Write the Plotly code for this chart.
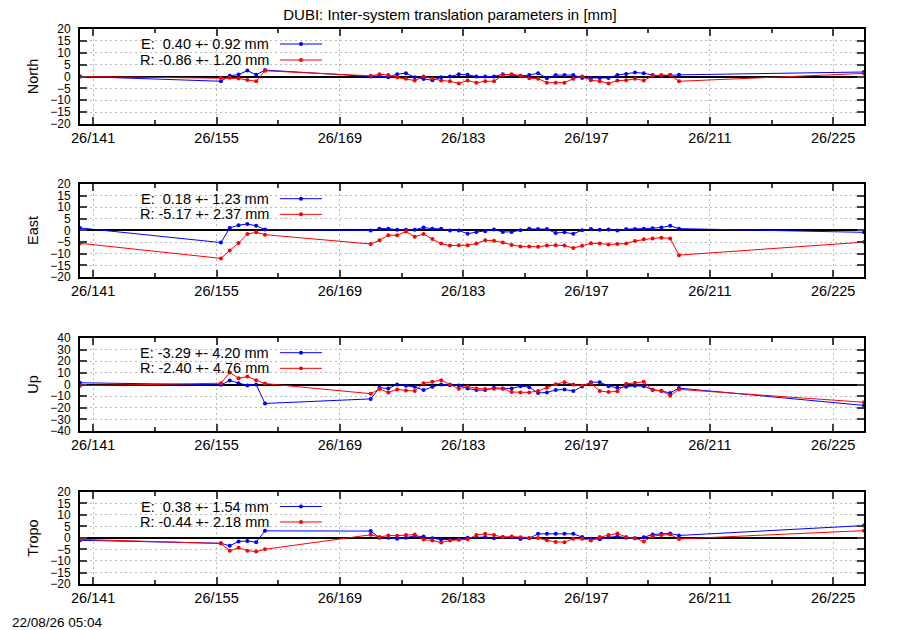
import plotly.graph_objects as go
from plotly.subplots import make_subplots

# day of year (2026), one solution per day
days = [139.5, 155.5, 156.5, 157.5, 158.5, 159.5, 160.5,
        172.5, 173.5, 174.5, 175.5, 176.5, 177.5, 178.5, 179.5, 180.5, 181.5,
        182.5, 183.5, 184.5, 185.5, 186.5, 187.5, 188.5, 189.5, 190.5, 191.5,
        192.5, 193.5, 194.5, 195.5, 196.5, 197.5, 198.5, 199.5, 200.5, 201.5,
        202.5, 203.5, 204.5, 205.5, 206.5, 207.5, 228.5]

north_e = [0.0, -2.0, 0.3, 0.8, 2.5, 0.7, 2.7,
           0.0, 0.3, -0.3, 1.0, 1.4, -0.3, -1.1, -1.6, -0.3, 0.0,
           0.9, 0.7, 0.0, 0.0, 0.0, 0.9, 0.6, 0.3, 0.6, 1.4,
           -0.7, 0.6, 0.6, 0.6, -0.6, -0.6, -0.6, -0.6, 0.6, 1.1,
           1.7, 1.4, 0.6, 0.3, 0.6, 0.7, 1.9]
north_r = [0.0, -0.5, -0.5, -0.8, -1.5, -2.0, 2.4,
           0.3, 0.9, 0.6, -0.4, -0.9, -1.7, 0.0, -0.9, -1.7, -2.0,
           -2.9, -1.7, -2.6, -2.0, -2.0, 0.6, 1.0, 0.3, -0.7, -0.9,
           -2.6, -2.6, -2.6, -0.9, 0.0, -1.6, -2.0, -2.9, -1.7, -1.6,
           -0.9, -1.7, 0.3, 0.6, 0.6, -2.0, 1.3]

east_e = [1.1, -5.2, 1.1, 2.3, 2.8, 2.0, 0.4,
          0.0, 0.8, 0.8, 0.3, 0.3, 0.3, 1.3, 0.8, 0.7, 0.0,
          0.0, -1.4, -0.7, -0.3, 0.4, -0.6, -0.6, 0.1, 0.7, 0.6,
          0.6, -1.1, -0.8, -1.4, 0.1, 0.6, 0.3, 0.4, 0.0, 0.6,
          0.6, 0.8, 1.0, 1.3, 2.0, 0.8, -0.8]
east_r = [-5.5, -12.0, -8.6, -5.4, -1.5, -0.8, -1.8,
          -5.8, -4.2, -2.0, -2.1, -0.4, -2.7, -1.5, -3.7, -5.6, -6.5,
          -6.3, -6.3, -5.6, -4.2, -4.4, -5.2, -6.2, -6.9, -6.9, -7.0,
          -6.5, -6.3, -6.5, -7.5, -6.6, -5.5, -5.6, -6.0, -5.8, -5.6,
          -4.5, -3.8, -3.4, -3.1, -3.4, -10.6, -5.0]

up_e = [1.5, -0.3, 3.4, 1.1, -0.8, 0.0, -16.3,
        -12.4, -2.8, -3.4, 0.0, -1.1, -2.0, -4.8, -2.0, 0.0, -0.6,
        -0.8, -3.4, -4.8, -4.8, -2.8, -3.4, -3.4, -1.4, -2.3, -7.3,
        -6.8, -4.8, -4.2, -5.6, -1.7, 2.0, 2.0, -1.4, -2.8, -2.0,
        -1.1, -1.4, -4.5, -5.6, -7.3, -3.1, -18.0]
up_r = [-1.0, 1.1, 10.4, 5.4, 6.8, 3.7, 0.8,
        -7.9, -3.9, -6.8, -4.2, -5.1, -5.6, 1.1, 2.3, 3.7, 0.0,
        -3.7, -1.7, -3.4, -3.9, -3.7, -3.7, -6.5, -6.8, -6.8, -5.6,
        -2.8, 0.3, 2.0, 0.0, -1.1, 1.1, -5.6, -6.5, -5.9, 0.6,
        1.4, 2.3, -4.8, -5.4, -9.6, -4.2, -15.3]

tropo_e = [-1.0, -2.3, -3.4, -1.5, -1.3, -1.8, 3.1,
           3.0, 0.1, 0.1, -0.3, 0.1, 1.0, 0.6, -0.1, -0.7, -0.7,
           -0.6, 0.1, 0.3, 0.4, -0.1, 0.4, 0.3, -0.4, -0.1, 1.8,
           1.8, 1.8, 1.8, 1.8, 0.4, -0.3, -0.6, 0.3, 0.7, 0.1,
           -0.1, 0.3, 1.5, 1.8, 2.0, 1.1, 5.4]
tropo_r = [-0.6, -2.4, -5.6, -4.2, -5.5, -5.9, -4.9,
           1.4, 0.4, 1.1, 1.0, 1.3, 1.5, -0.7, -1.1, -2.0, -1.1,
           -0.8, -0.6, 1.3, 1.8, 1.3, 0.3, 0.6, 0.3, 0.0, 0.0,
           -1.0, -1.7, -1.8, -0.3, -0.3, -1.1, 0.4, 1.3, 2.0, 0.4,
           -0.1, -1.5, 0.8, 1.3, 1.5, -0.4, 3.2]

panels = [
    ("North", north_e, north_r, "E:\u00a0\u00a00.40 +- 0.92 mm", "R: -0.86 +- 1.20 mm", 20, 5),
    ("East", east_e, east_r, "E:\u00a0\u00a00.18 +- 1.23 mm", "R: -5.17 +- 2.37 mm", 20, 5),
    ("Up", up_e, up_r, "E: -3.29 +- 4.20 mm", "R: -2.40 +- 4.76 mm", 40, 10),
    ("Tropo", tropo_e, tropo_r, "E:\u00a0\u00a00.38 +- 1.54 mm", "R: -0.44 +- 2.18 mm", 20, 5),
]

xtick_days = [141, 155, 169, 183, 197, 211, 225]
xtick_text = ["26/%d" % d for d in xtick_days]

domains = [[0.8288, 1.0], [0.5532, 0.7207], [0.2757, 0.4432], [0.0, 0.1658]]

FONT = "Liberation Sans, Arial, sans-serif"
BLUE = "rgb(0,0,255)"
RED = "rgb(255,0,0)"
GRID = "rgb(185,185,185)"

fig = make_subplots(rows=4, cols=1)

for i, (name, e_vals, r_vals, e_txt, r_txt, ylim, ystep) in enumerate(panels):
    row = i + 1
    fig.add_trace(go.Scatter(x=days, y=e_vals, mode="lines+markers",
                             line=dict(color=BLUE, width=1),
                             marker=dict(color=BLUE, size=4),
                             showlegend=False), row=row, col=1)
    fig.add_trace(go.Scatter(x=days, y=r_vals, mode="lines+markers",
                             line=dict(color=RED, width=1),
                             marker=dict(color=RED, size=4),
                             showlegend=False), row=row, col=1)

    fig.update_xaxes(range=[139.5, 228.5], tickmode="array",
                     tickvals=xtick_days, ticktext=xtick_text,
                     ticks="inside", ticklen=7, tickwidth=1.5, tickcolor="#404040",
                     minor=dict(dtick=7, tick0=141, ticks="inside", ticklen=4,
                                tickwidth=1.5, tickcolor="#404040", showgrid=False),
                     showline=True, linecolor="black", linewidth=2, mirror="ticks",
                     showgrid=True, gridcolor=GRID, griddash="2px,3px", gridwidth=1,
                     zeroline=False, tickfont=dict(size=14.5, color="black", family=FONT),
                     row=row, col=1)
    fig.update_yaxes(domain=domains[i], range=[-ylim, ylim], dtick=ystep, tick0=0,
                     ticks="inside", ticklen=7, tickwidth=1.5, tickcolor="#404040",
                     showline=True, linecolor="black", linewidth=2, mirror="ticks",
                     showgrid=True, gridcolor=GRID, griddash="2px,3px", gridwidth=1,
                     zeroline=True, zerolinecolor="black", zerolinewidth=1.5,
                     ticklabelstandoff=5,
                     tickfont=dict(size=12, color="black", family=FONT),
                     title=dict(text=name, standoff=8, font=dict(size=14.5, color="black", family=FONT)),
                     row=row, col=1)

    yref = "y domain" if i == 0 else "y%d domain" % row
    # legend: text on the left, sample on the right (gnuplot style)
    for txt, col, ypos in [(e_txt, BLUE, 0.842), (r_txt, RED, 0.674)]:
        fig.add_annotation(text=txt, xref="paper", yref=yref, x=0.2436, y=ypos,
                           xanchor="right", yanchor="middle", showarrow=False,
                           font=dict(size=14.5, color="black", family=FONT))
        fig.add_shape(type="line", xref="paper", yref=yref, x0=0.2551, x1=0.3087,
                      y0=ypos, y1=ypos, line=dict(color=col, width=1))
        fig.add_shape(type="circle", xref="paper", yref=yref,
                      x0=0.2819 - 0.0026, x1=0.2819 + 0.0026,
                      y0=ypos - 0.021, y1=ypos + 0.021,
                      fillcolor=col, line=dict(color=col, width=0))

fig.add_annotation(text="22/08/26 05:04", xref="paper", yref="paper",
                   x=-0.0893, y=-0.0685, xanchor="left", yanchor="middle",
                   showarrow=False, font=dict(size=13.5, color="black", family=FONT))

fig.update_layout(
    width=900, height=630,
    margin=dict(l=80, r=36, t=29, b=46),
    paper_bgcolor="white", plot_bgcolor="white",
    title=dict(text="DUBI: Inter-system translation parameters in [mm]",
               x=0.5, xref="container", y=0.976, yref="container",
               xanchor="center", yanchor="middle",
               font=dict(size=15, color="black", family=FONT)),
    font=dict(family=FONT, color="black"),
)

fig.write_html("out.html", config={"displayModeBar": False},
               post_script="document.body.style.margin='0';")
